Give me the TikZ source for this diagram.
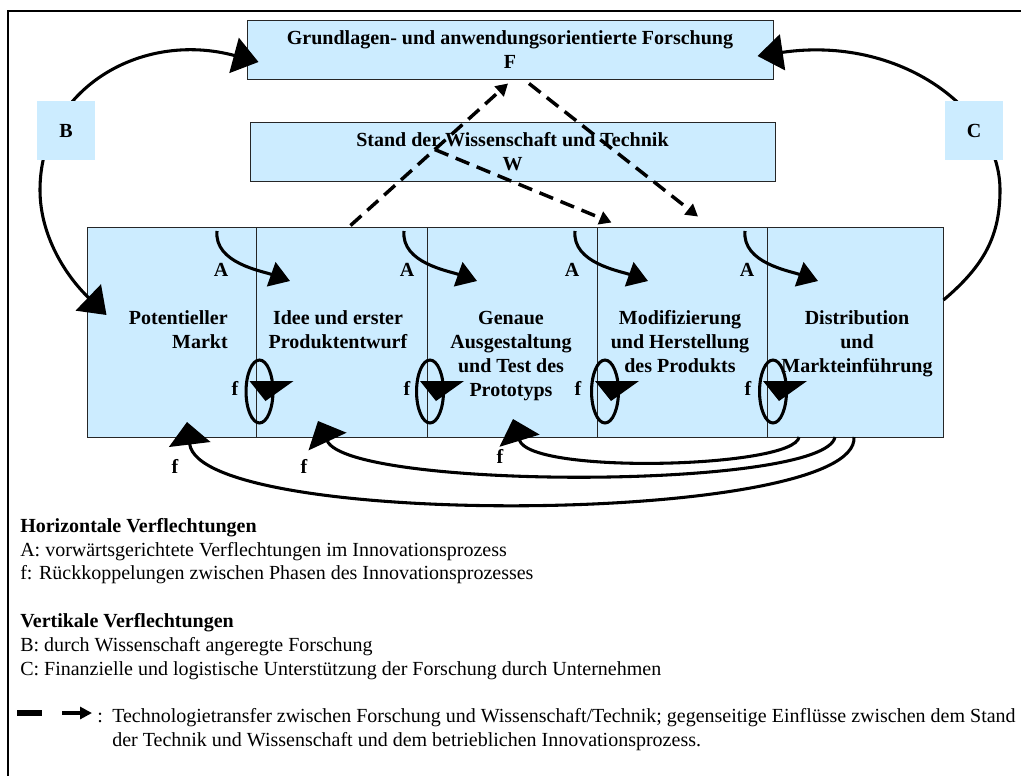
\documentclass[tikz,border=0pt]{standalone}
\usepackage{fontspec}
\setmainfont{Liberation Serif}
\usetikzlibrary{arrows.meta,calc}
\definecolor{boxblue}{RGB}{204,236,255}
\begin{document}
\begin{tikzpicture}[x=0.75pt,y=-0.75pt,
  every node/.style={font=\fontsize{15}{18}\selectfont},
  panel/.style={draw=black!85,line width=0.75pt,fill=boxblue,inner sep=0pt},
  tagbox/.style={fill=boxblue,inner sep=0pt,minimum width=43.5pt,minimum height=44.25pt,
    font=\fontsize{15}{18}\selectfont\bfseries},
  lbl/.style={font=\fontsize{15}{18}\selectfont\bfseries,inner sep=0pt},
  legend/.style={font=\fontsize{15}{18}\selectfont,inner sep=0pt,anchor=base west},
  flow/.style={line width=2.3pt},
  bigtip/.style={-{Triangle[length=19pt,width=27pt]}},
  bothtips/.style={{Triangle[length=19pt,width=27pt]}-{Triangle[length=19pt,width=27pt]}},
  fwdtip/.style={-{Triangle[length=15pt,width=19pt]}},
  backtip/.style={-{Triangle[length=17pt,width=31pt]}},
  transfer/.style={line width=2.6pt,dash pattern=on 11pt off 6pt,-{Triangle[length=9pt,width=10pt]}},
]
\useasboundingbox (0,0) rectangle (1021,775);
\clip (0,0) rectangle (1021,775);
\fill[white] (0,0) rectangle (1021,775);

% outer frame
\draw[line width=1.1pt] (8,11) rectangle (1060,820);

% research and state of the art
\node[panel,minimum width=394.5pt,minimum height=44.25pt,align=center,font=\fontsize{15}{18}\selectfont\bfseries]
  (F) at (510,49.5) {Grundlagen- und anwendungsorientierte Forschung\\F};
\node[panel,minimum width=393.75pt,minimum height=44.25pt,align=center,font=\fontsize{15}{18}\selectfont\bfseries]
  (W) at (512.5,151.5) {Stand der Wissenschaft und Technik\\W};

% phases of the innovation process
\node[panel,minimum width=126.75pt,minimum height=157.5pt] (m1) at (171.5,332) {};
\node[panel,minimum width=128.25pt,minimum height=157.5pt] (m2) at (341.5,332) {};
\node[panel,minimum width=127.5pt,minimum height=157.5pt] (m3) at (512,332) {};
\node[panel,minimum width=127.5pt,minimum height=157.5pt] (m4) at (682,332) {};
\node[panel,minimum width=132pt,minimum height=157.5pt] (m5) at (855,332) {};

% phase names (the base anchor sits on the last line)
\node[lbl,align=right,anchor=base east] (t1) at (228,348) {Potentieller\\Markt};
\node[lbl,align=center,anchor=base] (t2) at (338,348) {Idee und erster\\Produktentwurf};
\node[lbl,align=center,anchor=base] (t3) at (511,396) {Genaue\\Ausgestaltung\\und Test des\\Prototyps};
\node[lbl,align=center,anchor=base] (t4) at (680,372) {Modifizierung\\und Herstellung\\des Produkts};
\node[lbl,align=center,anchor=base] (t5) at (857,372) {Distribution\\und\\Markteinführung};

% forward links A
\node[lbl] (A1) at (221,270) {A};
\node[lbl] (A2) at (407,270) {A};
\node[lbl] (A3) at (572,270) {A};
\node[lbl] (A4) at (747,270) {A};
\foreach \i/\x in {1/217,2/404,3/575,4/745}{
  \coordinate (as\i) at (\x,231);
  \coordinate (at\i) at ({\x+73},281);
  \draw[flow,fwdtip] (as\i) .. controls ({\x-3},263) and ({\x+45},271) .. (at\i);
}

% feedback loops inside the process
\node[lbl] (f1) at (235,388) {f};
\node[lbl] (f2) at (407,388) {f};
\node[lbl] (f3) at (578,388) {f};
\node[lbl] (f4) at (748,388) {f};
\foreach \cx in {259.5,430,605,773}{
  \draw[flow] (\cx,391.5) ellipse [x radius=10.1pt,y radius=23.6pt];
  \fill ({\cx-10},381) -- ({\cx+34},381) -- ({\cx+6},401) -- cycle;
}

% feedback from market introduction to earlier phases
\coordinate (r1) at (854,437);
\coordinate (r2) at (835,437);
\coordinate (r3) at (799,437);
\coordinate (p1) at (187,422);
\coordinate (p2) at (318,421);
\coordinate (p3) at (513,419);
\draw[flow,backtip] (r1) .. controls (860,525) and (200,530) .. (p1);
\draw[flow,backtip] (r2) .. controls (825,490) and (350,490) .. (p2);
\draw[flow,backtip] (r3) .. controls (795,468) and (530,475) .. (p3);
\node[lbl] (f5) at (175,466) {f};
\node[lbl] (f6) at (304,466) {f};
\node[lbl] (f7) at (500,456) {f};

% vertical links B and C
\coordinate (bLow) at ($(m1.west)+(20,-17)$);
\coordinate (bHigh) at ($(F.west)+(12,12.5)$);
\draw[flow,bothtips] (bLow) .. controls (65,275) and (40,235) .. (40,190)
  .. controls (40,90) and (140,30) .. (bHigh);
\coordinate (cLow) at ($(m5.east)+(0,-32)$);
\coordinate (cHigh) at ($(F.east)+(-16,6.5)$);
\draw[flow,bigtip] (cLow) .. controls (985,265) and (1000,235) .. (1000,190)
  .. controls (1000,110) and (900,35) .. (cHigh);
\node[tagbox] (B) at (66,130.5) {B};
\node[tagbox] (C) at (974,130.5) {C};

% technology transfer
\coordinate (d1s) at ($(m2.north)+(9,-1)$);
\coordinate (d1e) at ($(F.south)+(-2,4)$);
\coordinate (d2s) at ($(F.south)+(19,4)$);
\coordinate (d2e) at ($(m4.north)+(16,-10)$);
\coordinate (d3s) at ($(d1s)!0.535!(d1e)$);
\coordinate (d3e) at ($(m4.north west)+(15,-4)$);
\draw[transfer] (d1s) -- (d1e);
\draw[transfer] (d2s) -- (d2e);
\draw[transfer] (d3s) -- (d3e);

% key
\node[legend,font=\fontsize{15}{18}\selectfont\bfseries] (k1) at (20,532) {Horizontale Verflechtungen};
\node[legend] (k2) at (20,556) {A: vorwärtsgerichtete Verflechtungen im Innovationsprozess};
\node[legend] (k3) at (20,579) {f: Rückkoppelungen zwischen Phasen des Innovationsprozesses};
\node[legend,font=\fontsize{15}{18}\selectfont\bfseries] (k4) at (20,627) {Vertikale Verflechtungen};
\node[legend] (k5) at (20,651) {B: durch Wissenschaft angeregte Forschung};
\node[legend] (k6) at (20,675) {C: Finanzielle und logistische Unterstützung der Forschung durch Unternehmen};
\coordinate (kd1) at (17,713);
\coordinate (kd2) at (42,713);
\coordinate (ka1) at (62,713);
\coordinate (ka2) at (92,713);
\draw[line width=4pt] (kd1) -- (kd2);
\draw[line width=3.5pt,-{Triangle[length=9pt,width=9pt]}] (ka1) -- (ka2);
\node[legend] (k7) at (97,722) {:};
\node[legend,align=left] (k8) at (112,746) {Technologietransfer zwischen Forschung und Wissenschaft/Technik; gegenseitige Einflüsse zwischen dem Stand\\der Technik und Wissenschaft und dem betrieblichen Innovationsprozess.};
\end{tikzpicture}
\end{document}
